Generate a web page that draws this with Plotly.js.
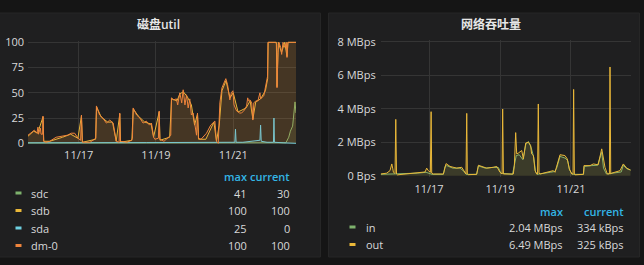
<!DOCTYPE html>
<html>
<head>
<meta charset="utf-8">
<script src="https://cdn.plot.ly/plotly-3.0.1.min.js"></script>
<style>
html,body{margin:0;padding:0;background:#151515;}
#chart{width:644px;height:265px;}
</style>
</head>
<body>
<div id="chart"></div>
<script>
// ---- time axis: hours since 2017-11-15 00:00 (UTC) ----
const BASE_DATE = Date.UTC(2017, 10, 15);
const diskRangeHours = [16.5, 183];
const netRangeHours = [15.3, 184.4];

// ---- 磁盘util (percent) ----
const diskNames = ["sdc", "sdb", "sda", "dm-0"];
const diskColors = ["#7EB26D", "#EAB839", "#6ED0E0", "#EF843C"];
const diskMax = ["41", "100", "25", "100"];
const diskCurrent = ["30", "100", "0", "100"];

const sdcHours = [16.5,50,100,150,170,176.7,178.5,179.5,180.9,181.7,182.4,183];
const sdcVals  = [0.3,0.5,0.4,0.6,0.5,0.5,6,12,17,30,41,30];

const sdbHours = [16.5,20,22.5,25.8,26.3,30,38,43,47.5,49.7,
  50.3,58.5,59.1,62,66,69,71.3,73.5,74,81,
  81.9,85,89,93,94.5,98,98.5,104.5,105.7,109,
  110.9,113,115.5,118,120,121.8,122.5,127,132,133.6,
  135.3,137,139.5,142,144,147,152,154.5,156.2,158,
  161,164,165.4,165.7,170.8,171.2,172,174,176,177.4,
  178,183];
const sdbVals = [7,12,10,26,2,2,6,9,5,27,
  1,4,36,26,21,21,2,29,1,3,
  34,27,21,19,6,31,3,6,44,42,
  49,51,46,38,18,29,4,4,21,2,
  18,52,62,45,50,31,35,42,24,41,
  44,52,64,100,100,56,100,90,100,86,
  100,100];

const sdaHours = [16.5,40,60,90,120,140,145.0,145.4,145.8,150,158,160.6,161.0,161.4,165,169.0,169.3,169.6,175,183];
const sdaVals  = [0.5,0.8,0.6,0.7,0.8,1,1,14,1,1,2,3,18,2,1,1,25,1,0.5,0];

const dm0Hours = [16.5,18.5,20.5,22.0,22.7,23.0,24.2,24.6,25.6,25.8,
  26.2,27.5,30,34,38,41,43.4,45.5,47.6,49.2,
  49.7,50.3,55,58,58.6,59.0,61,63,65.2,67.3,
  69.4,70.5,71.4,73.1,73.5,73.9,78,80.8,81.4,81.8,
  84,86,88,90,92,93.2,94.6,95.3,97.5,98.0,
  98.4,101,103,104.6,105.2,105.6,107,108.7,109.5,110.8,
  112,112.9,114,115,116,117,118,119.1,120.1,121.2,
  121.8,122.4,124,127.4,130,131.5,132.6,133.6,134.7,135.2,
  135.7,137,139.4,140.5,141.9,142.8,143.8,144.5,146.1,148,
  149.2,151,152.3,153,153.5,154.4,155.5,156.2,156.8,158,
  159.3,160.6,161,161.6,163,163.7,164.8,165.3,165.6,170.5,
  171,171.2,171.8,172.4,173.5,174.1,174.9,176.1,177,177.4,
  178,178.6,183];
const dm0Vals = [8,11,13,10,16,9,15,9,9,27,
  2,1,2,6,7,8,10,10,5,3,
  28,1,1,4,5,37,28,25,20,23,
  20,10,2,1,30,2,1,3,5,35,
  28,25,20,22,18,20,6,4,5,32,
  4,2,5,7,8,45,43,44,38,50,
  40,53,38,48,35,44,28,30,18,8,
  30,5,4,10,18,20,22,2,0,20,
  40,55,64,58,43,50,52,38,32,30,
  30,33,37,45,42,43,40,23,40,42,
  42,50,44,45,47,53,60,66,100,100,
  98,55,90,100,95,88,100,95,100,85,
  100,100,100];

const diskTickVals = [0, 25, 50, 75, 100];
const diskTickText = ["0", "25", "50", "75", "100"];

// ---- 网络吞吐量 (MBps) ----
const netNames = ["in", "out"];
const netColors = ["#7EB26D", "#EAB839"];
const netMax = ["2.04 MBps", "6.49 MBps"];
const netCurrent = ["334 kBps", "325 kBps"];

const inHours = [15.3,22,30,40,46,50,57.7,58.8,60,64,
  69,71.7,73,80.2,81.4,86,92,95,96.5,104.5,
  105.5,107,109,111.5,113.4,115.2,117,118.8,120,121,
  130,133,134.3,136.6,140,141.8,143,145,152.5,153,
  158,162,164.8,166,168,178,179.4,182,184.4];
const inVals = [0.08,0.10,0.08,0.15,0.20,0.08,0.08,0.55,0.60,0.45,
  0.45,0.25,0.08,0.08,0.58,0.45,0.50,0.48,0.15,0.08,
  0.55,1.20,1.25,0.95,1.85,2.04,1.70,1.10,0.25,0.08,
  0.20,0.25,0.45,1.15,1.05,0.90,0.35,0.08,0.08,0.55,
  0.60,0.62,1.40,0.45,0.10,0.22,0.62,0.40,0.334];

const outHours = [15.3,19.4,21.6,22.8,23.4,23.9,24.6,25.0,25.5,26.0,
  26.6,35.2,45.3,46.4,47.5,48.9,49.4,49.8,50.9,57.7,
  58.8,59.5,62.2,66.7,70.1,71.7,72.6,73.0,73.5,73.9,
  74.6,80.2,81.4,83.6,87.0,91.5,93.8,96.0,97.4,97.8,
  98.3,105.0,105.7,106.6,107.3,108.4,110.7,111.8,113.4,115.2,
  116.7,117.4,118.6,119.7,120.8,121.4,121.9,122.4,123.1,129.8,
  132.1,133.2,134.3,136.6,139.9,141.5,142.9,144.5,145.4,145.8,
  146.3,146.7,152.4,152.8,156.9,159.1,162.4,164.8,167.0,168.6,
  170.0,170.4,170.9,171.6,177.2,179.4,181.7,184.4];
const outVals = [0.10,0.15,0.30,0.70,0.45,0.20,0.15,0.15,3.36,0.10,
  0.05,0.12,0.22,0.45,0.30,0.20,3.82,0.15,0.10,0.10,
  0.55,0.72,0.55,0.45,0.50,0.30,0.12,0.10,3.72,0.10,
  0.06,0.08,0.62,0.55,0.45,0.50,0.55,0.20,0.10,3.98,
  0.10,0.10,0.60,2.57,1.30,1.35,1.50,1.00,1.95,2.00,
  1.80,1.30,1.20,0.30,0.10,0.10,4.28,0.15,0.10,0.25,
  0.30,0.20,0.50,1.25,1.20,1.00,0.40,0.10,0.10,5.15,
  0.10,0.05,0.08,0.60,0.60,0.70,0.65,1.60,0.50,0.10,
  0.10,6.49,0.10,0.15,0.30,0.70,0.45,0.33];

const netTickVals = [0, 2, 4, 6, 8];
const netTickText = ["0 Bps", "2 MBps", "4 MBps", "6 MBps", "8 MBps"];

const panelTitles = ["磁盘util", "网络吞吐量"];
const colHeaders = ["max", "current"];

// ---- helpers ----
const W = 644, H = 265;
const toT = h => BASE_DATE + h * 3600000;
const px = v => v / W;
const py = v => 1 - v / H;
function rgba(hex, a) {
  const n = parseInt(hex.slice(1), 16);
  return `rgba(${(n>>16)&255},${(n>>8)&255},${n&255},${a})`;
}
const FONT = "'Open Sans', 'Noto Sans CJK SC', sans-serif";
const TXT = "#d8d9da";

const diskSeries = [[sdcHours, sdcVals], [sdbHours, sdbVals], [sdaHours, sdaVals], [dm0Hours, dm0Vals]];
const netSeries = [[inHours, inVals], [outHours, outVals]];

const traces = [];
diskSeries.forEach((s, i) => {
  traces.push({
    type: "scatter", mode: "lines", xaxis: "x", yaxis: "y",
    x: s[0].map(toT), y: s[1], name: diskNames[i],
    line: {color: diskColors[i], width: 1},
    fill: "tozeroy", fillcolor: rgba(diskColors[i], 0.1),
    hoverinfo: "skip", showlegend: false
  });
});
netSeries.forEach((s, i) => {
  traces.push({
    type: "scatter", mode: "lines", xaxis: "x2", yaxis: "y2",
    x: s[0].map(toT), y: s[1], name: netNames[i],
    line: {color: netColors[i], width: 1},
    fill: "tozeroy", fillcolor: rgba(netColors[i], 0.1),
    hoverinfo: "skip", showlegend: false
  });
});

const shapes = [
  // panels
  {type: "rect", xref: "paper", yref: "paper", x0: px(-2), x1: px(320.5), y0: py(257), y1: py(13),
   fillcolor: "#1f1f20", line: {color: "#262626", width: 1}, layer: "below"},
  {type: "rect", xref: "paper", yref: "paper", x0: px(328.5), x1: px(639.5), y0: py(257), y1: py(13),
   fillcolor: "#1f1f20", line: {color: "#262626", width: 1}, layer: "below"}
];
const annotations = [];
function addText(text, x, y, xanchor, opts) {
  annotations.push(Object.assign({
    text: text, xref: "paper", yref: "paper", x: px(x), y: py(y),
    xanchor: xanchor, yanchor: "middle", showarrow: false,
    font: {family: FONT, size: 11, color: TXT}
  }, opts || {}));
}
// titles
addText(panelTitles[0], 158, 25, "center", {font: {family: FONT, size: 12, color: "#e6e6e6", weight: 600}});
addText(panelTitles[1], 491, 25, "center", {font: {family: FONT, size: 12, color: "#e6e6e6", weight: 600}});

// disk legend table
addText(colHeaders[0], 249, 176, "right", {font: {family: FONT, size: 11, color: "#33b5e5", weight: 600}});
addText(colHeaders[1], 292, 176, "right", {font: {family: FONT, size: 11, color: "#33b5e5", weight: 600}});
const diskRowY = [193, 210.5, 228, 245.5];
diskNames.forEach((n, i) => {
  shapes.push({type: "rect", xref: "paper", yref: "paper",
    x0: px(15.5), x1: px(21.5), y0: py(diskRowY[i] + 1.5), y1: py(diskRowY[i] - 1.5),
    fillcolor: diskColors[i], line: {width: 0}});
  addText(n, 29, diskRowY[i], "left");
  addText(diskMax[i], 249, diskRowY[i], "right");
  addText(diskCurrent[i], 292, diskRowY[i], "right");
});

// net legend table
addText(colHeaders[0], 565, 211, "right", {font: {family: FONT, size: 11, color: "#33b5e5", weight: 600}});
addText(colHeaders[1], 626, 211, "right", {font: {family: FONT, size: 11, color: "#33b5e5", weight: 600}});
const netRowY = [227, 244.5];
netNames.forEach((n, i) => {
  shapes.push({type: "rect", xref: "paper", yref: "paper",
    x0: px(349.5), x1: px(355.5), y0: py(netRowY[i] + 1.5), y1: py(netRowY[i] - 1.5),
    fillcolor: netColors[i], line: {width: 0}});
  addText(n, 364, netRowY[i], "left");
  addText(netMax[i], 565, netRowY[i], "right");
  addText(netCurrent[i], 626, netRowY[i], "right");
});

const gridC = "#353535";
const tickFont = {family: FONT, size: 11, color: TXT};
const xCommon = {
  type: "date", tickformat: "%m/%d", tick0: "2017-11-17", dtick: 2 * 86400000,
  showgrid: true, gridcolor: gridC, gridwidth: 1, zeroline: false, showline: false,
  ticks: "", tickfont: tickFont, fixedrange: true, ticklabelstandoff: 3
};
const layout = {
  width: W, height: H,
  margin: {l: 0, r: 0, t: 0, b: 0},
  paper_bgcolor: "#151515", plot_bgcolor: "rgba(0,0,0,0)",
  showlegend: false,
  xaxis: Object.assign({}, xCommon, {domain: [px(28), px(296)], range: diskRangeHours.map(toT), anchor: "y"}),
  yaxis: {domain: [py(144.3), py(41.3)], range: [-1, 101], tickvals: diskTickVals, ticktext: diskTickText,
    showgrid: true, gridcolor: gridC, zeroline: false, showline: false, ticks: "", tickfont: tickFont,
    anchor: "x", fixedrange: true, ticklabelstandoff: 3},
  xaxis2: Object.assign({}, xCommon, {domain: [px(380.7), px(630.7)], range: netRangeHours.map(toT), anchor: "y2", ticklabelstandoff: 4}),
  yaxis2: {domain: [py(176.5), py(40)], range: [-0.05, 8.1], tickvals: netTickVals, ticktext: netTickText,
    showgrid: true, gridcolor: gridC, zeroline: false, showline: false, ticks: "", tickfont: tickFont,
    anchor: "x2", fixedrange: true, ticklabelstandoff: 4},
  shapes: shapes,
  annotations: annotations
};
Plotly.newPlot("chart", traces, layout, {staticPlot: true, displayModeBar: false});
</script>
</body>
</html>
